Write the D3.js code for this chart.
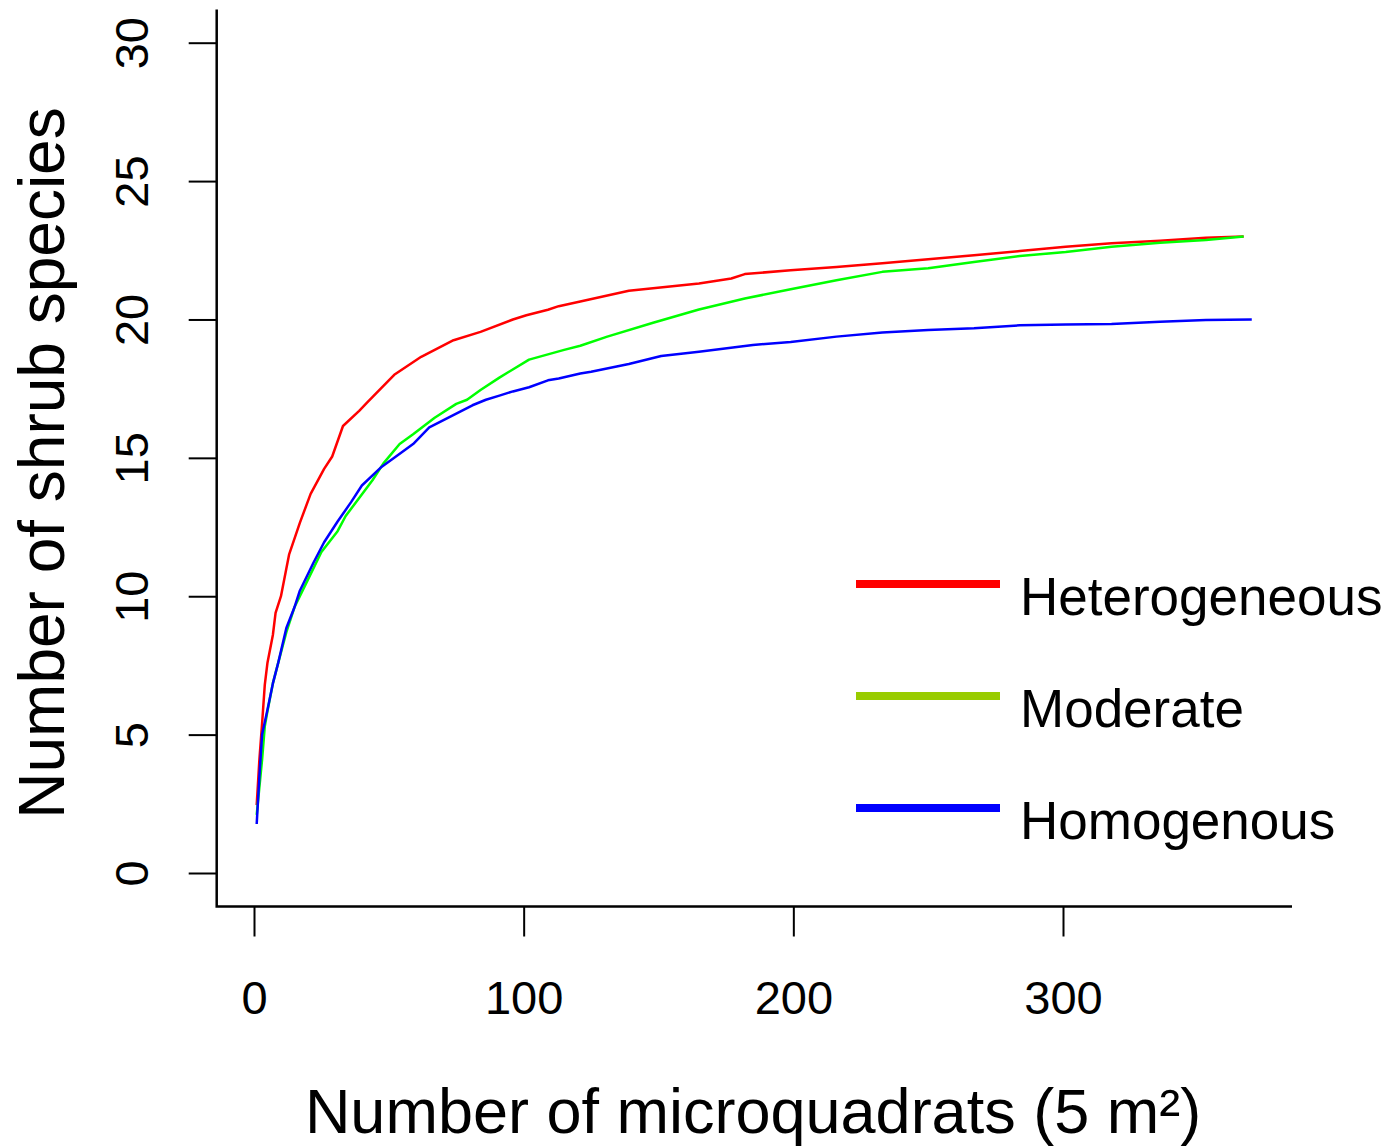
<!DOCTYPE html>
<html>
<head>
<meta charset="utf-8">
<script src="https://cdn.jsdelivr.net/npm/d3@7"></script>
<style>
  html, body { margin: 0; padding: 0; background: #fff; }
  svg { display: block; font-family: "Liberation Sans", Arial, sans-serif; }
</style>
</head>
<body>
<svg id="chart" width="1389" height="1148"></svg>
<script>
// Species accumulation curves: mean number of shrub species vs. number of sampled microquadrats.
const heteroN = [1, 2, 3, 4, 5, 7, 8, 10, 12, 13, 17, 21, 26, 29, 33, 39, 42, 44, 50, 52, 62, 74, 84, 96, 101, 109, 113, 121, 139, 165, 177, 182, 199, 216, 233, 250, 267, 284, 301, 318, 336, 353, 367];
const heteroS = [2.45, 4.1, 5.4, 6.8, 7.6, 8.6, 9.4, 10.0, 11.0, 11.5, 12.65, 13.7, 14.6, 15.05, 16.15, 16.7, 17.0, 17.2, 17.8, 18.0, 18.65, 19.25, 19.55, 20.0, 20.15, 20.35, 20.48, 20.65, 21.04, 21.3, 21.48, 21.64, 21.78, 21.9, 22.03, 22.18, 22.32, 22.47, 22.63, 22.75, 22.84, 22.95, 23.0];

const moderN = [1, 3, 4, 5, 7, 9, 12, 15, 20, 25, 31, 34, 39, 44, 48, 54, 59, 67, 75, 79, 84, 91, 102, 115, 121, 131, 148, 165, 182, 199, 216, 233, 250, 267, 284, 301, 318, 336, 353, 367];
const moderS = [2.1, 4.1, 5.3, 5.85, 6.85, 7.6, 8.7, 9.6, 10.6, 11.6, 12.35, 12.9, 13.55, 14.2, 14.8, 15.5, 15.85, 16.45, 16.95, 17.1, 17.45, 17.9, 18.55, 18.9, 19.05, 19.38, 19.88, 20.36, 20.76, 21.09, 21.42, 21.72, 21.85, 22.08, 22.29, 22.44, 22.63, 22.77, 22.87, 23.0];

const homoN = [1, 2, 3, 5, 7, 9, 12, 15, 17, 22, 26, 31, 36, 40, 47, 52, 59, 65, 71, 81, 86, 91, 96, 102, 109, 113, 121, 125, 139, 151, 165, 185, 199, 216, 233, 250, 267, 284, 301, 318, 336, 353, 370];
const homoS = [1.77, 3.5, 5.0, 5.9, 6.85, 7.6, 8.85, 9.6, 10.2, 11.2, 11.95, 12.7, 13.4, 14.0, 14.65, 15.0, 15.5, 16.1, 16.4, 16.9, 17.1, 17.25, 17.4, 17.55, 17.8, 17.87, 18.05, 18.11, 18.39, 18.68, 18.83, 19.08, 19.19, 19.38, 19.53, 19.62, 19.68, 19.79, 19.82, 19.84, 19.92, 19.98, 20.0];

const seriesNames = ["Heterogeneous", "Moderate", "Homogenous"];
const lineColors = ["#ff0000", "#00ff00", "#0000ff"];
const legendColors = ["#ff0000", "#99cc00", "#0000ff"];

const xTicks = [0, 100, 200, 300];
const yTicks = [0, 5, 10, 15, 20, 25, 30];

const xTitle = "Number of microquadrats (5 m\u00b2)";
const yTitle = "Number of shrub species";

const svg = d3.select("#chart");

const x = d3.scaleLinear().domain([0, 300]).range([254, 1063]);
const y = d3.scaleLinear().domain([0, 30]).range([873, 42.7]);

const frame = { left: 216.7, right: 1292, top: 9.5, bottom: 906.5 };

// x axis ticks and labels
const gx = svg.append("g")
  .attr("transform", `translate(0,${frame.bottom})`)
  .call(d3.axisBottom(x).tickValues(xTicks).tickSize(30).tickFormat(d3.format("d")));
gx.select(".domain").remove();
gx.selectAll(".tick line").attr("stroke", "#000").attr("stroke-width", 2);
gx.selectAll(".tick text")
  .attr("y", 107).attr("dy", null)
  .attr("fill", "#000")
  .style("font-size", "47px");

// y axis ticks and rotated labels
const gy = svg.append("g")
  .attr("transform", `translate(${frame.left},0)`)
  .call(d3.axisLeft(y).tickValues(yTicks).tickSize(28).tickFormat(d3.format("d")));
gy.select(".domain").remove();
gy.selectAll(".tick line").attr("stroke", "#000").attr("stroke-width", 2);
gy.selectAll(".tick text")
  .attr("x", null).attr("dy", null)
  .attr("transform", "translate(-69,0) rotate(-90)")
  .attr("text-anchor", "middle")
  .attr("fill", "#000")
  .style("font-size", "47px");

// L-shaped frame
svg.append("path")
  .attr("d", `M${frame.left},${frame.top}V${frame.bottom}H${frame.right}`)
  .attr("fill", "none")
  .attr("stroke", "#000")
  .attr("stroke-width", 2.5);

// curves
const line = d3.line().x(d => x(d[0])).y(d => y(d[1]));
const series = [
  d3.zip(heteroN, heteroS),
  d3.zip(moderN, moderS),
  d3.zip(homoN, homoS)
];
svg.append("g").selectAll("path")
  .data(series)
  .join("path")
  .attr("d", line)
  .attr("fill", "none")
  .attr("stroke", (d, i) => lineColors[i])
  .attr("stroke-width", 2.5)
  .attr("stroke-linejoin", "round");

// legend
const legendY = [584, 696, 808];
const lg = svg.append("g");
seriesNames.forEach((name, i) => {
  lg.append("line")
    .attr("x1", 856).attr("x2", 1000)
    .attr("y1", legendY[i]).attr("y2", legendY[i])
    .attr("stroke", legendColors[i])
    .attr("stroke-width", 8);
  lg.append("text")
    .attr("x", 1020).attr("y", legendY[i] + 31)
    .attr("fill", "#000")
    .style("font-size", "53px")
    .text(name);
});

// axis titles
svg.append("text")
  .attr("x", 753).attr("y", 1133)
  .attr("text-anchor", "middle")
  .style("font-size", "63px")
  .text(xTitle);

svg.append("text")
  .attr("transform", "translate(64,463) rotate(-90)")
  .attr("text-anchor", "middle")
  .style("font-size", "64px")
  .text(yTitle);
</script>
</body>
</html>
